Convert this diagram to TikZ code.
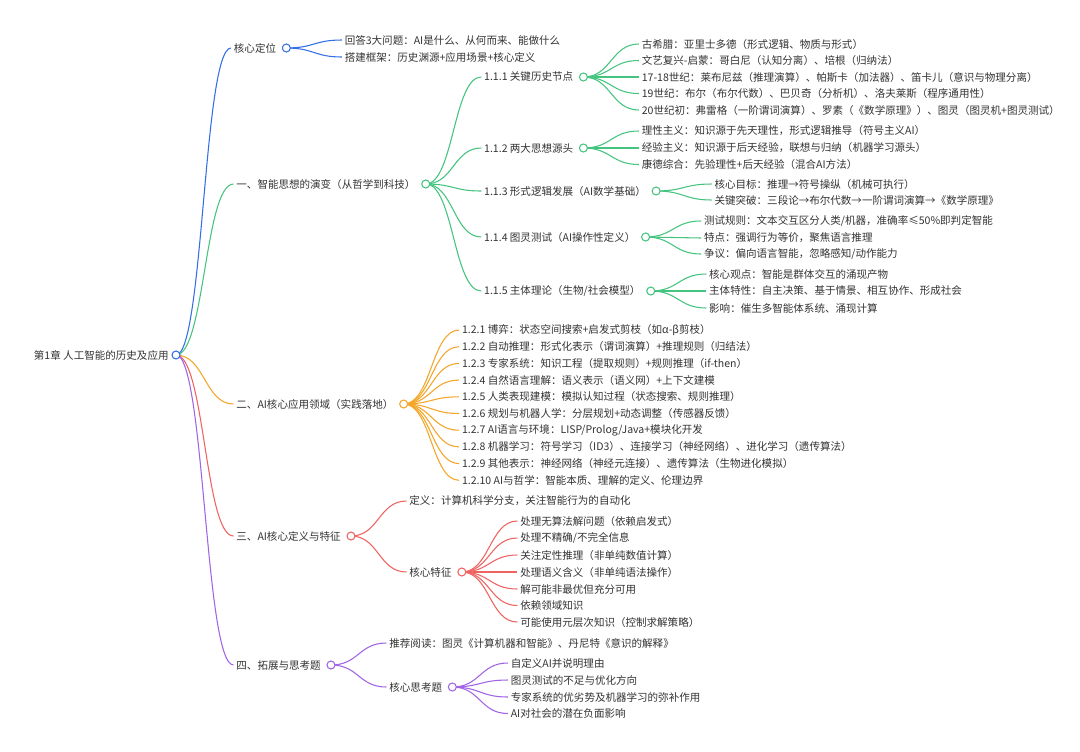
\documentclass[tikz,border=0pt]{standalone}
\usepackage{fontspec}
\setmainfont{Noto Sans CJK SC}
\usetikzlibrary{calc,backgrounds}
\definecolor{cB}{HTML}{3370E6}
\definecolor{cG}{HTML}{45C47F}
\definecolor{cO}{HTML}{F4A62A}
\definecolor{cR}{HTML}{EE6461}
\definecolor{cP}{HTML}{A065E6}
\definecolor{txt}{HTML}{333333}
\tikzset{
  t/.style={anchor=west, inner sep=0pt, inner xsep=2pt, text=txt, font=\fontsize{7.9}{9}\selectfont},
  dot/.style={circle, draw=#1, fill=white, line width=0.8pt, minimum size=6pt, inner sep=0pt},
  lnk/.style={draw=#1, line width=0.8pt},
}
\newcommand\kid[4]{\path (#2.center) ++(55.5,0) coordinate (tmp#1); \node[t] (#1) at (tmp#1 |- 0,#3) {#4};}
\newcommand\dotat[3]{\node[dot=#2] (#1) at ([xshift=5.5pt]#3.east) {};}
\newcommand\lk[3]{\draw[lnk=#1] let \p1=(#2.center), \p2=(#3.west) in (\p1) .. controls ({0.5*\x1+0.5*\x2},\y1) and ({0.5*\x1+0.5*\x2},\y2) .. (\p2);}
\begin{document}
\begin{tikzpicture}[x=0.75pt,y=-0.75pt]
\useasboundingbox (0,0) rectangle (1080,751);
% root
\node[dot=cB] (r) at (176,355) {};
\node[t,anchor=east] (rt) at (171.5,355) {第1章 人工智能的历史及应用};
% blue
\node[t] (a) at (231,48) {核心定位};
\dotat{ac}{cB}{a}
\kid{a1}{ac}{40}{回答3大问题：AI是什么、从何而来、能做什么}
\kid{a2}{ac}{57}{搭建框架：历史渊源+应用场景+核心定义}
% green
\node[t] (b) at (233.5,184) {一、智能思想的演变（从哲学到科技）};
\dotat{bc}{cG}{b}
\kid{b1}{bc}{77}{1.1.1 关键历史节点}
\dotat{b1c}{cG}{b1}
\kid{b11}{b1c}{44}{古希腊：亚里士多德（形式逻辑、物质与形式）}
\kid{b12}{b1c}{60.5}{文艺复兴-启蒙：哥白尼（认知分离）、培根（归纳法）}
\kid{b13}{b1c}{77}{17-18世纪：莱布尼兹（推理演算）、帕斯卡（加法器）、笛卡儿（意识与物理分离）}
\kid{b14}{b1c}{93.5}{19世纪：布尔（布尔代数）、巴贝奇（分析机）、洛夫莱斯（程序通用性）}
\kid{b15}{b1c}{110}{20世纪初：弗雷格（一阶谓词演算）、罗素（《数学原理》）、图灵（图灵机+图灵测试）}
\kid{b2}{bc}{148}{1.1.2 两大思想源头}
\dotat{b2c}{cG}{b2}
\kid{b21}{b2c}{131}{理性主义：知识源于先天理性，形式逻辑推导（符号主义AI）}
\kid{b22}{b2c}{148}{经验主义：知识源于后天经验，联想与归纳（机器学习源头）}
\kid{b23}{b2c}{164.5}{康德综合：先验理性+后天经验（混合AI方法）}
\kid{b3}{bc}{191}{1.1.3 形式逻辑发展（AI数学基础）}
\dotat{b3c}{cG}{b3}
\kid{b31}{b3c}{184}{核心目标：推理→符号操纵（机械可执行）}
\kid{b32}{b3c}{200}{关键突破：三段论→布尔代数→一阶谓词演算→《数学原理》}
\kid{b4}{bc}{237}{1.1.4 图灵测试（AI操作性定义）}
\dotat{b4c}{cG}{b4}
\kid{b41}{b4c}{221}{测试规则：文本交互区分人类/机器，准确率≤50\%即判定智能}
\kid{b42}{b4c}{238}{特点：强调行为等价，聚焦语言推理}
\kid{b43}{b4c}{254}{争议：偏向语言智能，忽略感知/动作能力}
\kid{b5}{bc}{291}{1.1.5 主体理论（生物/社会模型）}
\dotat{b5c}{cG}{b5}
\kid{b51}{b5c}{274}{核心观点：智能是群体交互的涌现产物}
\kid{b52}{b5c}{291}{主体特性：自主决策、基于情景、相互协作、形成社会}
\kid{b53}{b5c}{308}{影响：催生多智能体系统、涌现计算}
% orange
\node[t] (c) at (233.5,404) {二、AI核心应用领域（实践落地）};
\dotat{cc}{cO}{c}
\kid{c1}{cc}{330}{1.2.1 博弈：状态空间搜索+启发式剪枝（如α-β剪枝）}
\kid{c2}{cc}{346.7}{1.2.2 自动推理：形式化表示（谓词演算）+推理规则（归结法）}
\kid{c3}{cc}{363.4}{1.2.3 专家系统：知识工程（提取规则）+规则推理（if-then）}
\kid{c4}{cc}{380.1}{1.2.4 自然语言理解：语义表示（语义网）+上下文建模}
\kid{c5}{cc}{396.8}{1.2.5 人类表现建模：模拟认知过程（状态搜索、规则推理）}
\kid{c6}{cc}{413.5}{1.2.6 规划与机器人学：分层规划+动态调整（传感器反馈）}
\kid{c7}{cc}{430.2}{1.2.7 AI语言与环境：LISP/Prolog/Java+模块化开发}
\kid{c8}{cc}{446.9}{1.2.8 机器学习：符号学习（ID3）、连接学习（神经网络）、进化学习（遗传算法）}
\kid{c9}{cc}{463.6}{1.2.9 其他表示：神经网络（神经元连接）、遗传算法（生物进化模拟）}
\kid{c10}{cc}{480.3}{1.2.10 AI与哲学：智能本质、理解的定义、伦理边界}
% red
\node[t] (d) at (233.5,536) {三、AI核心定义与特征};
\dotat{dc}{cR}{d}
\kid{d1}{dc}{501}{定义：计算机科学分支，关注智能行为的自动化}
\kid{d2}{dc}{572}{核心特征}
\dotat{d2c}{cR}{d2}
\kid{d21}{d2c}{521}{处理无算法解问题（依赖启发式）}
\kid{d22}{d2c}{538}{处理不精确/不完全信息}
\kid{d23}{d2c}{555}{关注定性推理（非单纯数值计算）}
\kid{d24}{d2c}{572}{处理语义含义（非单纯语法操作）}
\kid{d25}{d2c}{589}{解可能非最优但充分可用}
\kid{d26}{d2c}{605.5}{依赖领域知识}
\kid{d27}{d2c}{622}{可能使用元层次知识（控制求解策略）}
% purple
\node[t] (e) at (233.5,665) {四、拓展与思考题};
\dotat{ec}{cP}{e}
\kid{e1}{ec}{643}{推荐阅读：图灵《计算机器和智能》、丹尼特《意识的解释》}
\kid{e2}{ec}{687}{核心思考题}
\dotat{e2c}{cP}{e2}
\kid{e21}{e2c}{663}{自定义AI并说明理由}
\kid{e22}{e2c}{680}{图灵测试的不足与优化方向}
\kid{e23}{e2c}{697}{专家系统的优劣势及机器学习的弥补作用}
\kid{e24}{e2c}{713.5}{AI对社会的潜在负面影响}
% links
\begin{scope}[on background layer]
\fill[white] (0,0) rectangle (1080,751);
\lk{cB}{r}{a}\lk{cG}{r}{b}\lk{cO}{r}{c}\lk{cR}{r}{d}\lk{cP}{r}{e}
\lk{cB}{ac}{a1}\lk{cB}{ac}{a2}
\foreach \k in {b1,b2,b3,b4,b5}{\lk{cG}{bc}{\k}}
\foreach \k in {b11,b12,b13,b14,b15}{\lk{cG}{b1c}{\k}}
\foreach \k in {b21,b22,b23}{\lk{cG}{b2c}{\k}}
\foreach \k in {b31,b32}{\lk{cG}{b3c}{\k}}
\foreach \k in {b41,b42,b43}{\lk{cG}{b4c}{\k}}
\foreach \k in {b51,b52,b53}{\lk{cG}{b5c}{\k}}
\foreach \k in {c1,c2,c3,c4,c5,c6,c7,c8,c9,c10}{\lk{cO}{cc}{\k}}
\foreach \k in {d1,d2}{\lk{cR}{dc}{\k}}
\foreach \k in {d21,d22,d23,d24,d25,d26,d27}{\lk{cR}{d2c}{\k}}
\foreach \k in {e1,e2}{\lk{cP}{ec}{\k}}
\foreach \k in {e21,e22,e23,e24}{\lk{cP}{e2c}{\k}}
\end{scope}
\end{tikzpicture}
\end{document}
